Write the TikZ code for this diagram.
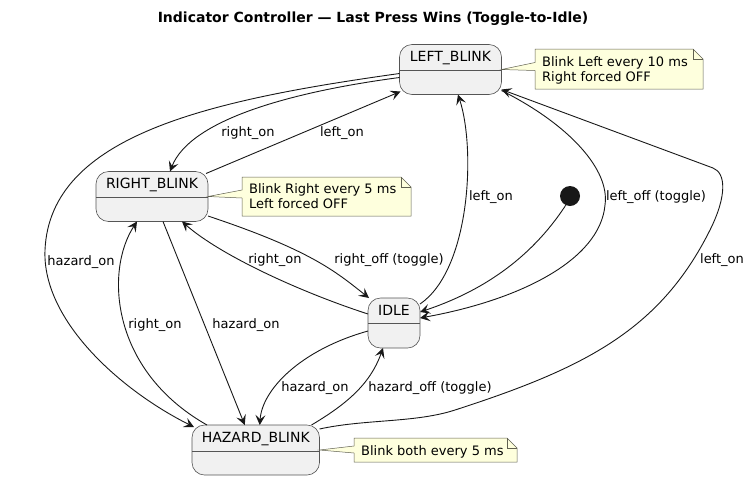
\documentclass[tikz,border=0pt]{standalone}
\usepackage{fontspec}
\setmainfont{DejaVu Sans}
\usetikzlibrary{arrows.meta,calc}
\definecolor{stfill}{HTML}{F1F1F1}
\definecolor{stdraw}{HTML}{555555}
\definecolor{notefill}{HTML}{FEFFDD}
\definecolor{notedraw}{HTML}{606050}
\definecolor{lc}{HTML}{181818}
\tikzset{
  st/.style={draw=stdraw, fill=stfill, rounded corners=12.5pt, line width=0.6pt, inner sep=0pt, outer sep=0pt},
  stname/.style={font=\fontsize{14}{16}\selectfont, inner sep=0pt, anchor=base},
  lbl/.style={font=\fontsize{13}{15}\selectfont, inner sep=0pt, anchor=base},
  notetxt/.style={font=\fontsize{13}{15}\selectfont, inner sep=0pt, anchor=base west},
  notebg/.style={fill=notefill, draw=notedraw, line width=0.5pt},
  divline/.style={draw=stdraw, line width=0.6pt},
  tr/.style={draw=lc, line width=0.9pt, -{Stealth[length=10pt,width=10pt,inset=4.2pt]}},
}
\begin{document}
\begin{tikzpicture}[x=1pt,y=-1pt]
\useasboundingbox (0,0) rectangle (751,480);
% title
\node[font=\bfseries\fontsize{14}{16}\selectfont, inner sep=0pt] (title) at (373,19) {Indicator Controller — Last Press Wins (Toggle-to-Idle)};

% states
\node[st, minimum width=102pt, minimum height=50pt] (L) at (450.5,69.5) {};
\node[st, minimum width=112pt, minimum height=50pt] (R) at (152,196.5) {};
\node[st, minimum width=52pt, minimum height=50pt] (I) at (394,323) {};
\node[st, minimum width=127.5pt, minimum height=50pt] (H) at (255.75,450) {};
\node[circle, fill=lc, minimum size=20pt, inner sep=0pt] (init) at (570,196) {};

\draw[divline] (L.west |- 0,70) -- (L.east |- 0,70);
\draw[divline] (R.west |- 0,197) -- (R.east |- 0,197);
\draw[divline] (I.west |- 0,323.5) -- (I.east |- 0,323.5);
\draw[divline] (H.west |- 0,451) -- (H.east |- 0,451);

\node[stname] (Ln) at (450.5,61.5) {LEFT\_BLINK};
\node[stname] (Rn) at (152,188.5) {RIGHT\_BLINK};
\node[stname] (In) at (394,315) {IDLE};
\node[stname] (Hn) at (255.75,442) {HAZARD\_BLINK};

% notes
\path[notebg] (535,49) -- (693,49) -- (703,59) -- (703,89) -- (535,89) -- (535,70.5) -- (L.east) -- (535,62.5) -- cycle;
\draw[notebg, fill=none] (693,49) -- (693,59) -- (703,59);
\node[notetxt] (n1a) at (542,66) {Blink Left every 10 ms};
\node[notetxt] (n1b) at (542,81) {Right forced OFF};

\path[notebg] (242,177) -- (401,177) -- (411,187) -- (411,216) -- (242,216) -- (242,198) -- (R.east) -- (242,190) -- cycle;
\draw[notebg, fill=none] (401,177) -- (401,187) -- (411,187);
\node[notetxt] (n2a) at (249,193) {Blink Right every 5 ms};
\node[notetxt] (n2b) at (249,208) {Left forced OFF};

\path[notebg] (354,438) -- (507,438) -- (517,448) -- (517,462) -- (354,462) -- (354,453) -- (H.east) -- (354,446) -- cycle;
\draw[notebg, fill=none] (507,438) -- (507,448) -- (517,448);
\node[notetxt] (n3) at (361,455.5) {Blink both every 5 ms};

% transitions
\draw[tr] ($(L.west)+(0,8)$) .. controls (290,92) and (190,120) .. ($(R.north)+(18,0)$);
\draw[tr] ($(R.north east)+(-2,2)$) -- ($(L.south west)+(1,-3)$);
\draw[tr] ($(L.west)+(0,4)$) .. controls (210,100) and (50,135) .. (45,250) .. controls (42,320) and (120,390) .. ($(H.north west)+(2,2)$);
\draw[tr] ($(H.north west)+(15,0)$) .. controls (110,370) and (105,270) .. ($(R.south)+(-15,0)$);
\draw[tr] ($(R.south)+(11,0)$) -- ($(H.north)+(-11,0)$);
\draw[tr] ($(R.east)+(0,19.5)$) .. controls (310,250) and (335,271) .. ($(I.north west)+(1,0)$);
\draw[tr] ($(I.west)+(0,-9)$) .. controls (300,292) and (220,255) .. ($(R.south east)+(-26,0)$);
\draw[tr] ($(I.north east)+(0,6)$) .. controls (470,270) and (476,150) .. ($(L.south)+(7.5,0)$);
\draw[tr] (init.245) .. controls (530,260) and (480,292) .. ($(I.east)+(0,-11)$);
\draw[tr] ($(L.south east)+(0,-4)$) .. controls (570,125) and (610,170) .. (605,205) .. controls (600,260) and (520,300) .. ($(I.east)+(0,-5)$);
\draw[tr] ($(H.north east)+(0,4)$) .. controls (365,419) and (415,423) .. (455,410) .. controls (585,368) and (660,330) .. (710,230) .. controls (727,196) and (726,173) .. (713,168) -- ($(L.south east)+(0,-5)$);
\draw[tr] ($(I.west)+(0,8)$) .. controls (300,350) and (262,390) .. ($(H.north)+(4,0)$);
\draw[tr] ($(H.north east)+(-8,0)$) .. controls (345,405) and (370,385) .. ($(I.south)+(-11,0)$);

% labels
\node[lbl] (t1) at (248,136.5) {right\_on};
\node[lbl] (t2) at (342,136.5) {left\_on};
\node[lbl] (t3) at (81,265.5) {hazard\_on};
\node[lbl] (t4) at (491,200.5) {left\_on};
\node[lbl] (t5) at (656,200.5) {left\_off (toggle)};
\node[lbl] (t6) at (275,263.5) {right\_on};
\node[lbl] (t7) at (389,263.5) {right\_off (toggle)};
\node[lbl] (t8) at (722,263.5) {left\_on};
\node[lbl] (t9) at (155,328.5) {right\_on};
\node[lbl] (t10) at (246,328.5) {hazard\_on};
\node[lbl] (t11) at (315,391.5) {hazard\_on};
\node[lbl] (t12) at (430,391.5) {hazard\_off (toggle)};
\end{tikzpicture}
\end{document}
